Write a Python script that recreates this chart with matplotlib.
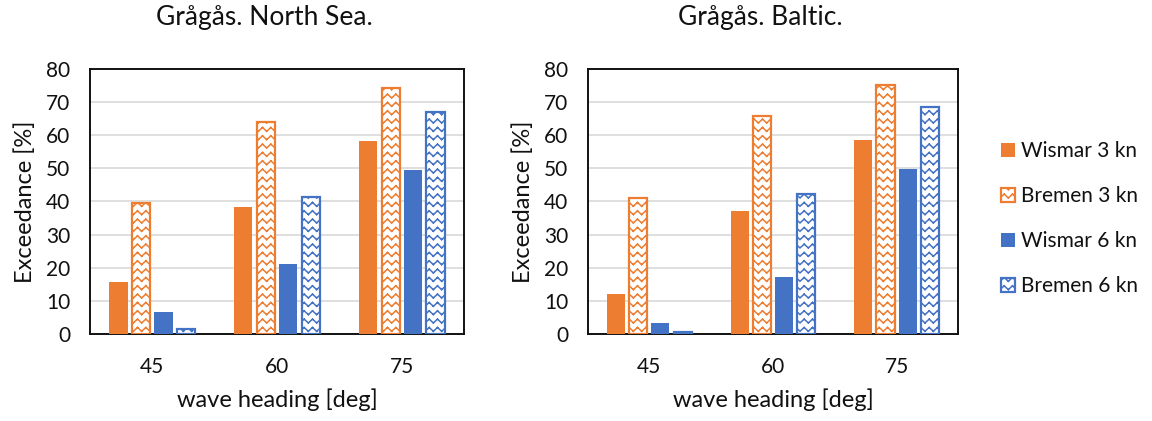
import warnings
import numpy as np
import matplotlib
matplotlib.use("Agg")
import matplotlib.pyplot as plt
from matplotlib import hatch as mhatch
from matplotlib.path import Path
from matplotlib.patches import Patch

warnings.filterwarnings("ignore")

# ---- data -------------------------------------------------------------
headings = ["45", "60", "75"]
series_names = ["Wismar 3 kn", "Bremen 3 kn", "Wismar 6 kn", "Bremen 6 kn"]

north_wismar_3 = [15.6, 38.3, 58.3]
north_bremen_3 = [39.6, 64.0, 74.3]
north_wismar_6 = [6.5, 21.0, 49.4]
north_bremen_6 = [1.5, 41.4, 67.0]

baltic_wismar_3 = [11.9, 37.1, 58.7]
baltic_bremen_3 = [41.0, 65.7, 75.3]
baltic_wismar_6 = [3.2, 17.2, 49.9]
baltic_bremen_6 = [0.5, 42.4, 68.5]

titles = ["Grågås. North Sea.", "Grågås. Baltic."]
y_ticks = [0, 10, 20, 30, 40, 50, 60, 70, 80]

ORANGE = "#ED7D31"
BLUE = "#4472C4"
TEXT = "#111111"


# ---- zigzag (chevron) hatch -------------------------------------------
class ChevronHatch(mhatch.HatchPatternBase):
    """Rows of small '^' chevrons, drawn as separate line segments."""

    def __init__(self, hatch, density):
        self.num_rows = int(hatch.count("^") * density)
        self.num_vertices = self.num_rows * self.num_rows * 4

    def set_vertices_and_codes(self, vertices, codes):
        n = self.num_rows
        step = 1.0 / n
        idx = 0
        for i in range(n):
            y0 = i * step + step * 0.25
            for j in range(n):
                x0 = j * step
                vertices[idx] = (x0, y0)
                vertices[idx + 1] = (x0 + step / 2, y0 + step * 0.45)
                vertices[idx + 2] = (x0 + step / 2, y0 + step * 0.45)
                vertices[idx + 3] = (x0 + step, y0)
                codes[idx] = Path.MOVETO
                codes[idx + 1] = Path.LINETO
                codes[idx + 2] = Path.MOVETO
                codes[idx + 3] = Path.LINETO
                idx += 4


mhatch._hatch_types.append(ChevronHatch)

plt.rcParams["font.family"] = ["Lato", "DejaVu Sans"]
plt.rcParams["hatch.linewidth"] = 1.1

fig = plt.figure(figsize=(11.52, 4.21), dpi=100)
ax1 = fig.add_axes([0.078, 0.207, 0.325, 0.629])
ax2 = fig.add_axes([0.510, 0.207, 0.322, 0.629])

panels = [
    (ax1, [north_wismar_3, north_bremen_3, north_wismar_6, north_bremen_6]),
    (ax2, [baltic_wismar_3, baltic_bremen_3, baltic_wismar_6, baltic_bremen_6]),
]

x = np.arange(len(headings))
width = 0.146
step = 0.18
offsets = [-1.5 * step, -0.5 * step, 0.5 * step, 1.5 * step]

styles = [
    dict(facecolor=ORANGE, edgecolor=ORANGE, linewidth=0),
    dict(facecolor="white", edgecolor=ORANGE, hatch="^^", linewidth=1.6),
    dict(facecolor=BLUE, edgecolor=BLUE, linewidth=0),
    dict(facecolor="white", edgecolor=BLUE, hatch="^^", linewidth=1.6),
]

for (ax, series), title in zip(panels, titles):
    for vals, off, st in zip(series, offsets, styles):
        ax.bar(x + off, vals, width, zorder=3, **st)
    ax.set_xlim(-0.5, len(headings) - 0.5)
    ax.set_ylim(0, 80)
    ax.set_yticks(y_ticks)
    ax.set_xticks(x)
    ax.set_xticklabels(headings)
    ax.tick_params(axis="both", length=0, labelsize=15, colors=TEXT)
    ax.tick_params(axis="y", pad=14)
    ax.tick_params(axis="x", pad=17)
    ax.yaxis.grid(True, color="#d9d9d9", linewidth=1.2, zorder=0)
    ax.set_axisbelow(True)
    for sp in ax.spines.values():
        sp.set_color(TEXT)
        sp.set_linewidth(1.4)
    ax.set_ylabel("Exceedance [%]", fontsize=17, color=TEXT, labelpad=7)
    ax.set_xlabel("wave heading [deg]", fontsize=17, color=TEXT, labelpad=8)
    ax.text(0.467, 1.195, title, transform=ax.transAxes, ha="center", va="center",
            fontsize=19, color=TEXT)

handles = [Patch(**st) for st in styles]
fig.legend(handles, series_names, loc="upper left", bbox_to_anchor=(0.869, 0.665),
           frameon=False, fontsize=15, handlelength=0.67, handleheight=0.67,
           labelspacing=1.2, handletextpad=0.3, borderpad=0, borderaxespad=0,
           labelcolor=TEXT)

fig.savefig("out.png", dpi=100)
